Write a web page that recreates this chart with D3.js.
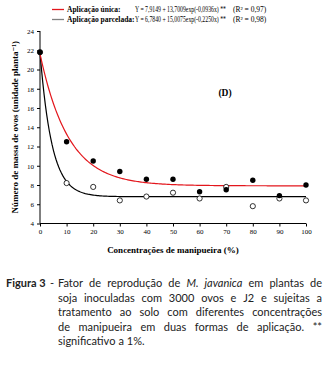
<!DOCTYPE html>
<html>
<head>
<meta charset="utf-8">
<script src="https://cdn.jsdelivr.net/npm/d3@7"></script>
<style>
  body { margin: 0; background: #fff; }
  svg { display: block; }
</style>
</head>
<body>
<svg id="chart"></svg>
<script>
// values
var concentracoes = [0, 10, 20, 30, 40, 50, 60, 70, 80, 90, 100]
var aplicacaoUnica = [21.8, 12.5, 10.5, 9.4, 8.6, 8.6, 7.3, 7.5, 8.5, 6.9, 8.0]
var aplicacaoParcelada = [21.8, 8.2, 7.8, 6.4, 6.8, 7.2, 6.6, 7.8, 5.8, 6.6, 6.4]
// fitted models printed in the legend: Y = a + b*exp(c*x)
var modeloUnica = [7.9149, 13.7009, -0.0936]
var modeloParcelada = [6.7840, 15.0075, -0.2250]
var yTicks = [4, 6, 8, 10, 12, 14, 16, 18, 20, 22, 24]
var xTicks = [0, 10, 20, 30, 40, 50, 60, 70, 80, 90, 100]

var dimensions = {
    width: 329,
    height: 366,
    margin: { top: 31, bottom: 142.5, left: 40, right: 23 }
}

var svg = d3.select("#chart")
    .attr("width", dimensions.width)
    .attr("height", dimensions.height)

var serif = "'Liberation Serif', 'DejaVu Serif', serif"

var xScale = d3.scaleLinear()
    .domain([0, 100])
    .range([dimensions.margin.left, dimensions.width - dimensions.margin.right])

var yScale = d3.scaleLinear()
    .domain([4, 24])
    .range([dimensions.height - dimensions.margin.bottom, dimensions.margin.top])

// axes
var xAxis = d3.axisBottom(xScale).tickValues(xTicks).tickSize(3).tickPadding(3)
var yAxis = d3.axisLeft(yScale).tickValues(yTicks).tickSize(3).tickPadding(3)

var gx = svg.append("g")
    .attr("transform", "translate(0," + yScale(4) + ")")
    .call(xAxis)
var gy = svg.append("g")
    .attr("transform", "translate(" + xScale(0) + ",0)")
    .call(yAxis)

svg.selectAll(".domain").attr("d", null)
gx.append("line").attr("x1", xScale(0)).attr("x2", xScale(100)).attr("stroke", "#000")
gy.append("line").attr("y1", yScale(4)).attr("y2", yScale(24)).attr("stroke", "#000")

svg.selectAll(".tick text")
    .attr("font-family", serif)
    .attr("font-size", "7px")
    .attr("fill", "#000")

// axis titles
svg.append("text")
    .attr("x", (xScale(0) + xScale(100)) / 2)
    .attr("y", 253)
    .attr("text-anchor", "middle")
    .attr("font-family", serif)
    .attr("font-weight", "bold")
    .attr("font-size", "9px")
    .text("Concentrações de manipueira (%)")

svg.append("text")
    .attr("transform", "translate(18," + ((yScale(4) + yScale(24)) / 2) + ") rotate(-90)")
    .attr("text-anchor", "middle")
    .attr("font-family", serif)
    .attr("font-weight", "bold")
    .attr("font-size", "9px")
    .text("Número de massa de ovos (unidade planta⁻¹)")

svg.append("text")
    .attr("x", 225)
    .attr("y", 96)
    .attr("text-anchor", "middle")
    .attr("font-family", serif)
    .attr("font-weight", "bold")
    .attr("font-size", "9.5px")
    .text("(D)")

// fitted curves
function curve(m) {
    return d3.range(0, 100.01, 0.5).map(function (x) {
        return { x: x, y: m[0] + m[1] * Math.exp(m[2] * x) }
    })
}
var line = d3.line().x(d => xScale(d.x)).y(d => yScale(d.y))

svg.append("path")
    .attr("d", line(curve(modeloParcelada)))
    .attr("fill", "none")
    .attr("stroke", "#000")
    .attr("stroke-width", 1.2)

svg.append("path")
    .attr("d", line(curve(modeloUnica)))
    .attr("fill", "none")
    .attr("stroke", "#e3161c")
    .attr("stroke-width", 1.2)

// points
svg.append("g")
    .selectAll("circle")
    .data(concentracoes)
    .enter()
    .append("circle")
    .attr("cx", d => xScale(d))
    .attr("cy", (d, i) => yScale(aplicacaoParcelada[i]))
    .attr("r", 2.6)
    .attr("fill", "#fff")
    .attr("stroke", "#000")
    .attr("stroke-width", 0.8)

svg.append("g")
    .selectAll("circle")
    .data(concentracoes)
    .enter()
    .append("circle")
    .attr("cx", d => xScale(d))
    .attr("cy", (d, i) => yScale(aplicacaoUnica[i]))
    .attr("r", 2.7)
    .attr("fill", "#000")

// legend
var legenda = [
    { nome: "Aplicação única:", eq: "Y = 7,9149 + 13,7009exp(-0,0936x) **", r2: "0,97", cor: "#e3161c", y: 12 },
    { nome: "Aplicação parcelada:", eq: "Y = 6,7840 + 15,0075exp(-0,2250x) **", r2: "0,98", cor: "#808080", y: 22 }
]
legenda.forEach(function (d) {
    svg.append("line")
        .attr("x1", 52).attr("x2", 64)
        .attr("y1", d.y - 2.5).attr("y2", d.y - 2.5)
        .attr("stroke", d.cor).attr("stroke-width", 1.3)
    svg.append("text")
        .attr("x", 67).attr("y", d.y)
        .attr("font-family", serif).attr("font-weight", "bold").attr("font-size", "7.5px")
        .text(d.nome)
    var eq = svg.append("text")
        .attr("font-family", serif).attr("font-size", "7.5px")
        .text(d.eq)
    var w = eq.node().getComputedTextLength()
    eq.attr("transform", "translate(135," + d.y + ") scale(" + (91 / w) + ",1)")
    svg.append("text")
        .attr("x", 233).attr("y", d.y)
        .attr("font-family", serif).attr("font-size", "7.5px")
        .text("(R² = " + d.r2 + ")")
})

// caption, justified word by word
var sans = "Lato, 'Open Sans', sans-serif"
var captionLines = [
    "Fator de reprodução de |M. javanica| em plantas de",
    "soja inoculadas com 3000 ovos e J2 e sujeitas a",
    "tratamento ao solo com diferentes concentrações",
    "de manipueira em duas formas de aplicação. **",
    "significativo a 1%."
]
var capLeft = 58, capRight = 322, capTop = 287, capStep = 14.5

svg.append("text")
    .attr("x", 6).attr("y", capTop)
    .attr("font-family", sans).attr("font-weight", "bold").attr("font-size", "11px")
    .attr("fill", "#222")
    .text("Figura 3")
svg.append("text")
    .attr("x", 50).attr("y", capTop)
    .attr("font-family", sans).attr("font-size", "11px").attr("fill", "#222")
    .text("-")

captionLines.forEach(function (ln, li) {
    var words = []
    ln.split("|").forEach(function (part, pi) {
        part.split(" ").filter(w => w !== "").forEach(function (w) {
            words.push({ w: w, it: pi % 2 === 1 })
        })
    })
    var y = capTop + li * capStep
    var nodes = words.map(function (d) {
        return svg.append("text")
            .attr("y", y)
            .attr("font-family", sans).attr("font-size", "11px").attr("fill", "#222")
            .attr("font-style", d.it ? "italic" : null)
            .text(d.w)
    })
    var widths = nodes.map(n => n.node().getComputedTextLength())
    var total = d3.sum(widths)
    var last = li === captionLines.length - 1
    var gap = last ? 3 : (capRight - capLeft - total) / (words.length - 1)
    var x = capLeft
    nodes.forEach(function (n, i) {
        n.attr("x", x)
        x += widths[i] + gap
    })
})
</script>
</body>
</html>
